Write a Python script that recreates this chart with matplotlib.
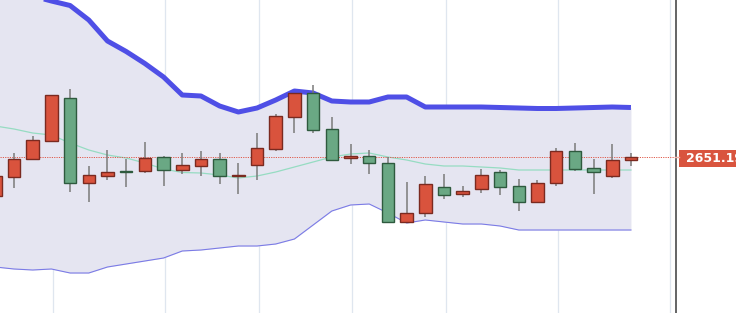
import matplotlib
matplotlib.use("Agg")
import matplotlib.pyplot as plt
from matplotlib.patches import Rectangle
import numpy as np

# ---- data (price units) ----
opens  = [2643.4, 2647.2, 2650.8, 2654.4, 2663.0, 2646.0, 2647.4, 2648.4, 2648.4, 2651.2,
          2648.6, 2649.4, 2650.8, 2647.4, 2649.6, 2652.8, 2659.2, 2664.0, 2656.8, 2651.0,
          2651.4, 2650.0, 2638.2, 2640.0, 2645.2, 2643.8, 2644.8, 2648.2, 2645.4, 2642.2,
          2646.0, 2652.4, 2649.0, 2647.4, 2650.6]
closes = [2647.4, 2650.8, 2654.6, 2663.6, 2646.0, 2647.6, 2648.2, 2648.2, 2651.0, 2648.6,
          2649.6, 2650.8, 2647.4, 2647.6, 2653.0, 2659.4, 2664.0, 2656.6, 2650.6, 2651.4,
          2650.0, 2638.2, 2640.0, 2645.8, 2643.6, 2644.4, 2647.6, 2645.2, 2642.2, 2646.0,
          2652.4, 2648.8, 2648.2, 2650.6, 2651.196]
highs  = [2648.2, 2652.0, 2655.4, 2663.6, 2664.8, 2649.4, 2652.6, 2650.8, 2654.2, 2651.4,
          2652.0, 2652.4, 2652.0, 2650.0, 2656.0, 2659.8, 2664.0, 2665.6, 2659.2, 2653.8,
          2652.6, 2651.2, 2646.2, 2647.4, 2647.8, 2645.4, 2648.8, 2648.6, 2646.8, 2646.6,
          2653.0, 2654.0, 2650.8, 2653.8, 2652.0]
lows   = [2642.6, 2645.0, 2650.8, 2654.4, 2644.2, 2642.2, 2646.6, 2645.2, 2648.0, 2645.4,
          2647.8, 2647.4, 2645.8, 2643.8, 2646.6, 2652.4, 2656.0, 2656.0, 2650.4, 2649.8,
          2647.8, 2638.0, 2638.0, 2639.2, 2642.8, 2643.2, 2644.0, 2643.6, 2640.4, 2642.0,
          2645.4, 2648.4, 2643.8, 2647.0, 2649.4]
upper_band = [2685.8, 2684.8, 2683.4, 2682.4, 2681.5, 2678.6, 2674.4, 2672.3, 2669.9, 2667.2,
              2663.6, 2663.4, 2661.4, 2660.2, 2661.0, 2662.6, 2664.4, 2664.0, 2662.4, 2662.2,
              2662.2, 2663.2, 2663.2, 2661.2, 2661.2, 2661.2, 2661.2, 2661.1, 2661.0, 2660.9,
              2660.9, 2661.0, 2661.1, 2661.2, 2661.1]
middle_band = [2657.4, 2656.8, 2656.0, 2655.6, 2654.0, 2652.6, 2651.6, 2651.0, 2650.0, 2648.8,
               2648.1, 2648.0, 2647.6, 2647.0, 2647.4, 2648.2, 2649.2, 2650.2, 2651.2, 2651.8,
               2652.0, 2651.2, 2650.6, 2649.8, 2649.4, 2649.4, 2649.2, 2649.0, 2648.6, 2648.6,
               2648.6, 2648.6, 2648.6, 2648.6, 2648.6]
lower_band = [2629.2, 2628.8, 2628.6, 2628.8, 2628.0, 2628.0, 2629.2, 2629.8, 2630.4, 2631.0,
              2632.4, 2632.6, 2633.0, 2633.4, 2633.4, 2633.8, 2634.8, 2637.6, 2640.4, 2641.6,
              2641.8, 2640.0, 2638.0, 2638.6, 2638.2, 2637.8, 2637.8, 2637.4, 2636.6, 2636.6,
              2636.6, 2636.6, 2636.6, 2636.6, 2636.6]
grid_positions = [3.1, 9.1, 14.1, 19.1, 24.1, 30.1, 36.1]
last_price = 2651.196
price_label = "2651.196"

# ---- styling ----
UP_FACE, UP_EDGE = "#d9533d", "#7a2a20"
DN_FACE, DN_EDGE = "#6aa884", "#2e5a3e"
WICK = "#7a7a7a"
FILL = "#e5e5f1"
UPPER_C = "#4f4fe6"
LOWER_C = "#7b7be6"
MID_C = "#96dcc2"
PRICE_C = "#e05a4a"

W, H = 736, 313
fig = plt.figure(figsize=(W / 100, H / 100), dpi=100)
fig.patch.set_facecolor("white")
ax = fig.add_axes([0, 0, 676 / W, 1])
ax.set_facecolor("white")

x = np.arange(len(opens))
ax.set_xlim(0.2514, 36.41)
ax.set_ylim(2620.0, 2682.6)

for g in grid_positions:
    ax.axvline(g, color="#dfe6ef", lw=0.9, zorder=0)

ax.fill_between(x, lower_band, upper_band, color=FILL, lw=0, zorder=1)
ax.plot(x, upper_band, color=UPPER_C, lw=3.6, solid_capstyle="butt",
        solid_joinstyle="round", zorder=2)
ax.plot(x, lower_band, color=LOWER_C, lw=0.8, zorder=2)
ax.plot(x, middle_band, color=MID_C, lw=0.9, zorder=2)

ax.axhline(last_price, color=PRICE_C, lw=0.7, ls=(0, (1.2, 1.2)), zorder=2.5)

bw = 0.67
for i in range(len(opens)):
    o, c, h, l = opens[i], closes[i], highs[i], lows[i]
    up = c >= o
    face, edge = (UP_FACE, UP_EDGE) if up else (DN_FACE, DN_EDGE)
    ax.vlines(i, l, h, color=WICK, lw=1.1, zorder=3)
    bottom = min(o, c)
    height = max(abs(c - o), 0.25)
    ax.add_patch(Rectangle((i - bw / 2, bottom), bw, height, facecolor=face,
                           edgecolor=edge, lw=1.0, zorder=4))

for s in ["top", "left", "bottom"]:
    ax.spines[s].set_visible(False)
ax.spines["right"].set_color("#3a3a3a")
ax.spines["right"].set_linewidth(1.1)
ax.set_xticks([])
ax.set_yticks([])

# price label box on the right
y_frac = (last_price - 2620.0) / (2682.6 - 2620.0)
box_h = 17 / H
fig.patches.append(Rectangle((679 / W, y_frac - box_h / 2 - 1 / H), (W - 679) / W + 0.01, box_h,
                             transform=fig.transFigure, facecolor="#d9543e",
                             edgecolor="none", zorder=5))
fig.lines.append(plt.Line2D([675 / W, 679 / W], [y_frac, y_frac], transform=fig.transFigure,
                            color="#f0b0a8", lw=1.0, zorder=6))
fig.text(686 / W, y_frac - 1 / H, price_label, color="white", fontsize=9, fontweight="bold",
         va="center", ha="left", family="DejaVu Sans", zorder=7)

fig.savefig("out.png", dpi=100)
